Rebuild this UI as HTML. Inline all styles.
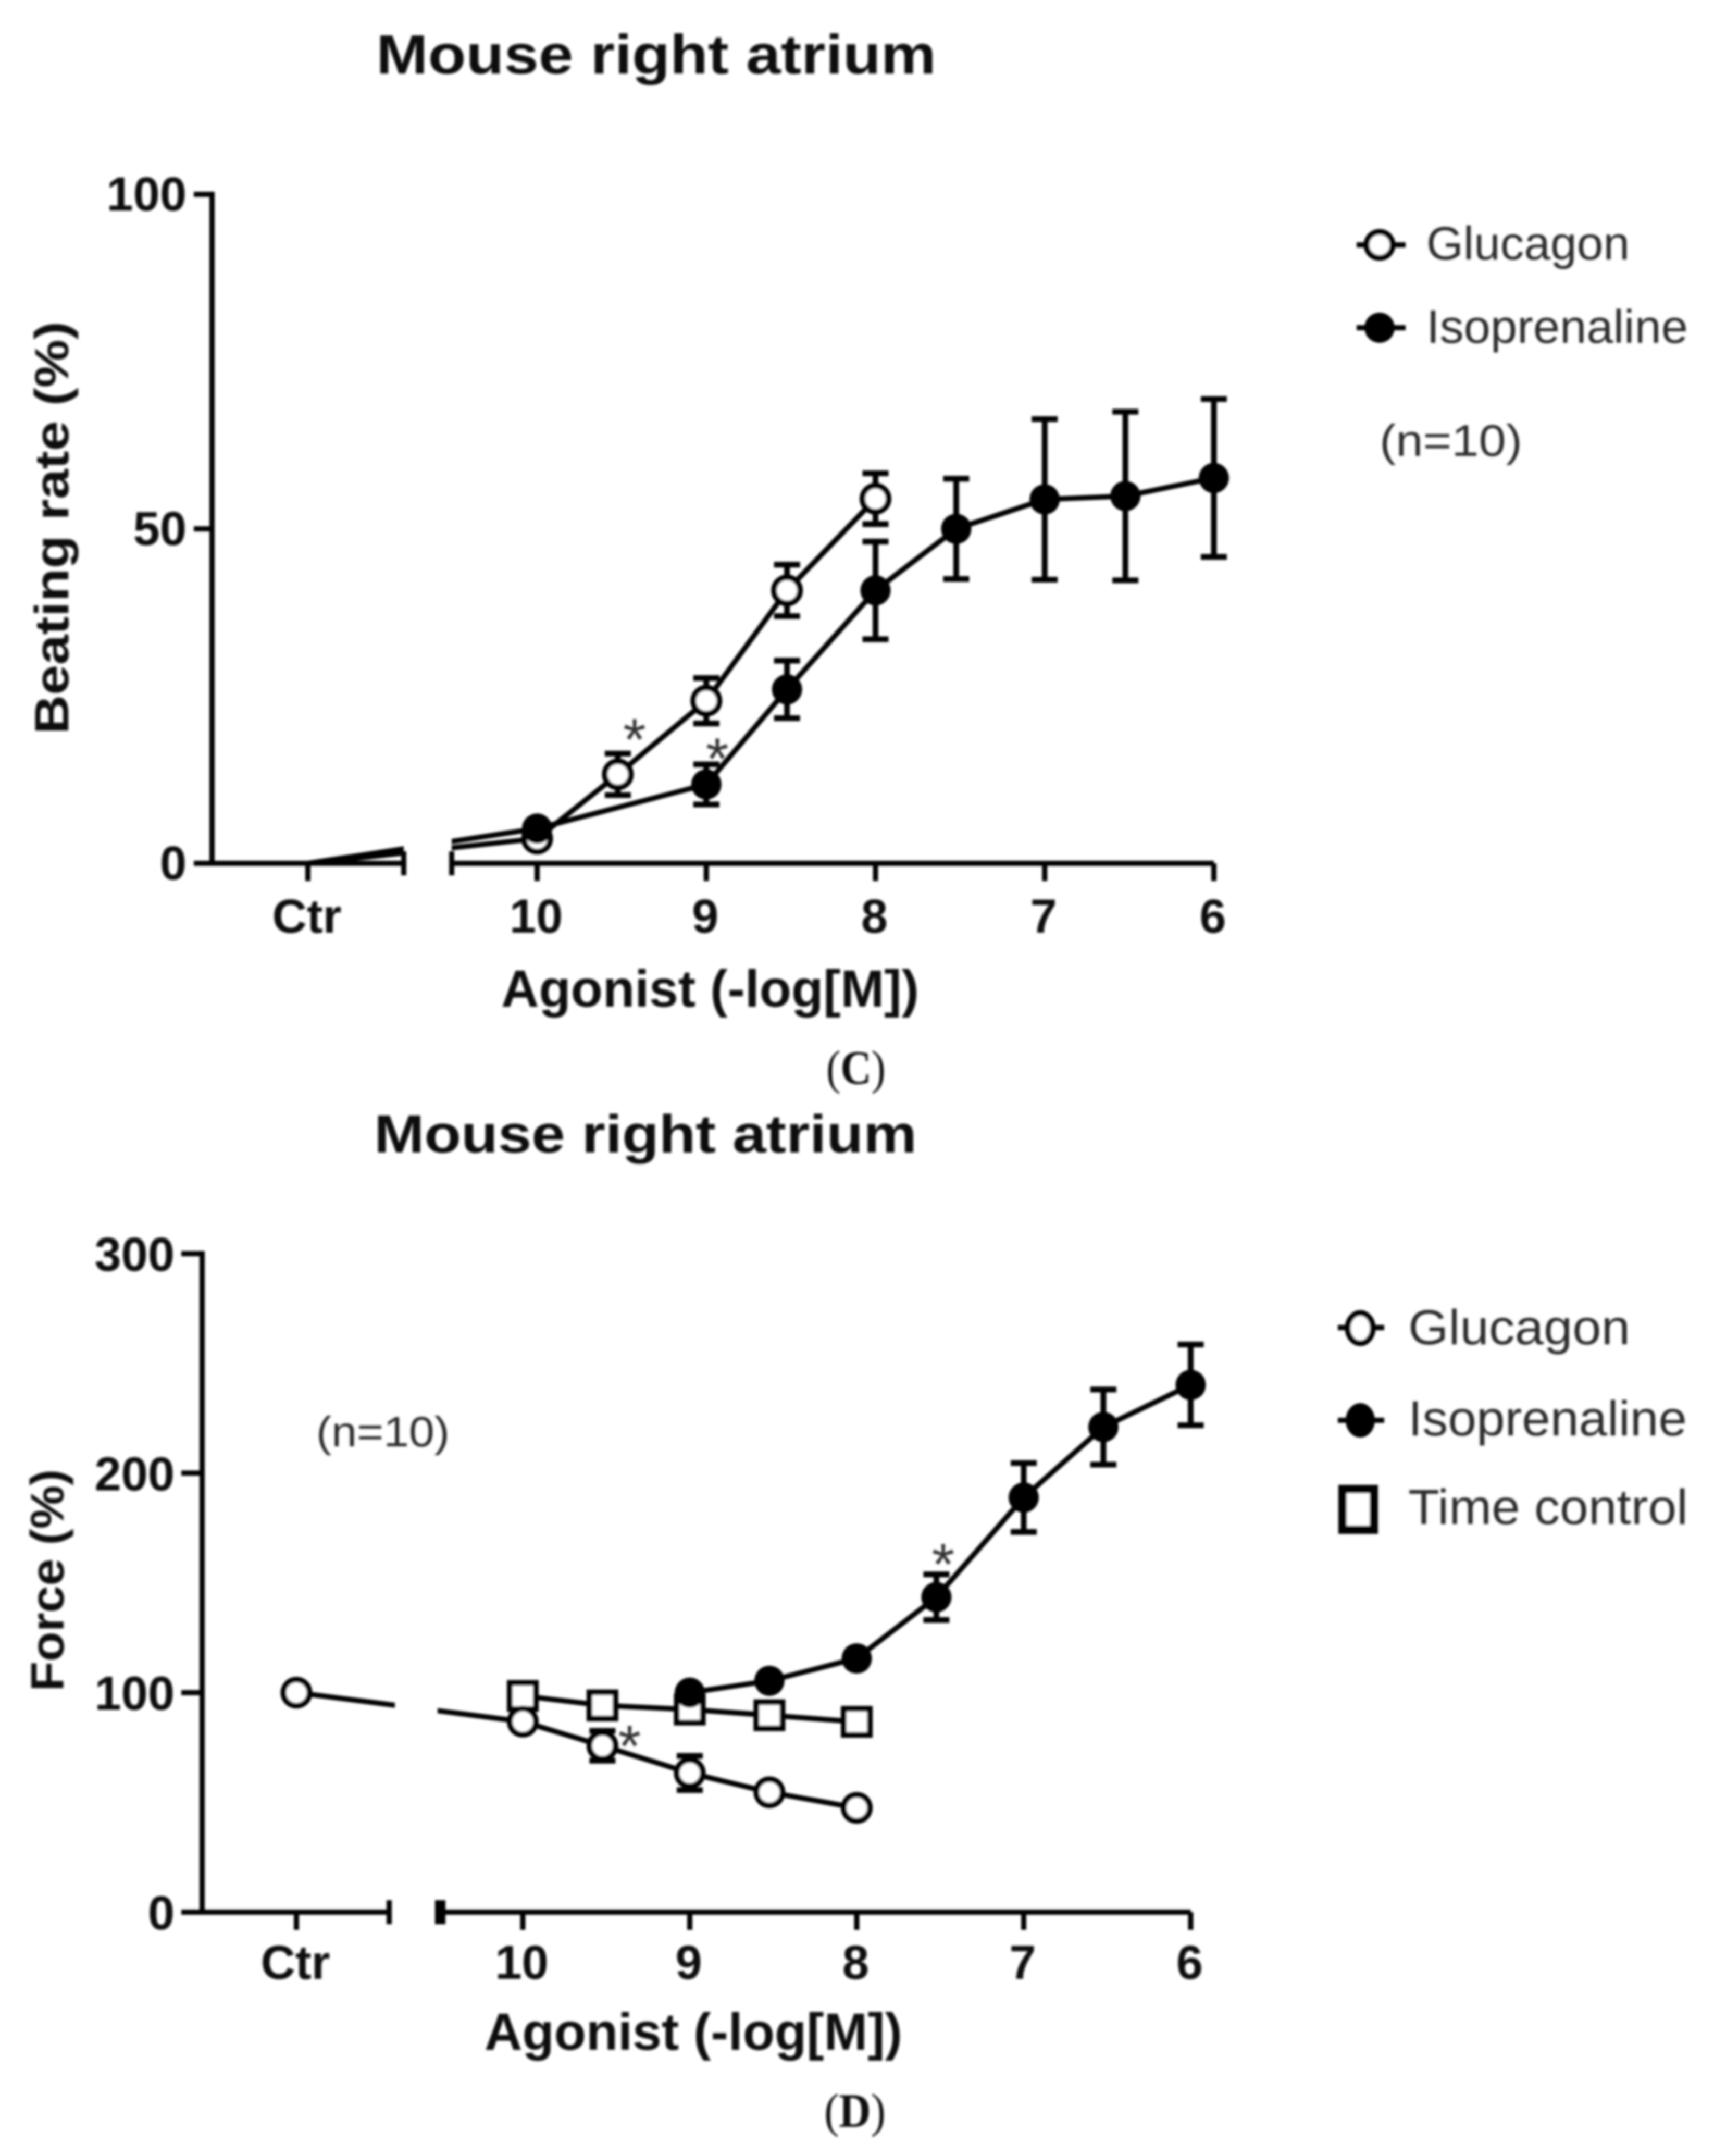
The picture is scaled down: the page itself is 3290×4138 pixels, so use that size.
<!DOCTYPE html>
<html lang="en">
<head>
<meta charset="utf-8">
<title>Mouse right atrium</title>
<style>
html,body{margin:0;padding:0;background:#fff;}
svg{display:block;}
text{font-family:"Liberation Sans",Arial,sans-serif;}
.b{font-weight:bold;fill:#111;}
.r{fill:#2b2b2b;}
.s{font-family:"Liberation Serif",serif;fill:#111;}
.star{fill:#333;font-size:112px;text-anchor:middle;}
</style>
</head>
<body>
<svg id="figure" xmlns="http://www.w3.org/2000/svg" width="3290" height="4138" viewBox="0 0 3290 4138">
<defs>
<filter id="soft" x="0" y="0" width="100%" height="100%" filterUnits="userSpaceOnUse" primitiveUnits="userSpaceOnUse"><feGaussianBlur stdDeviation="2.4"/></filter>
<clipPath id="clip-c"><rect x="0" y="0" width="775" height="2100"/><rect x="867" y="0" width="2423" height="2100"/></clipPath>
<clipPath id="clip-d"><rect x="0" y="2100" width="758" height="2038"/><rect x="840" y="2100" width="2450" height="2038"/></clipPath>
</defs>
<rect x="0" y="0" width="3290" height="4138" fill="#fff"/>
<g filter="url(#soft)">

<g id="panel-c">
<text class="b" x="722" y="141" font-size="106" textLength="1075" lengthAdjust="spacingAndGlyphs">Mouse right atrium</text>
<text class="b" transform="translate(131,1013) rotate(-90)" x="-396" y="0" font-size="92" textLength="792" lengthAdjust="spacingAndGlyphs">Beating rate (%)</text>
<text class="b" x="962" y="1932" font-size="100" textLength="802" lengthAdjust="spacingAndGlyphs">Agonist (-log[M])</text>
<g>
<line x1="2604" y1="470" x2="2698" y2="470" stroke="#000" stroke-width="10"/>
<circle cx="2648" cy="470" r="25" fill="#fff" stroke="#000" stroke-width="11"/>
<text class="r" x="2738" y="498" font-size="90" textLength="390" lengthAdjust="spacingAndGlyphs">Glucagon</text>
<line x1="2604" y1="629" x2="2698" y2="629" stroke="#000" stroke-width="10"/>
<circle cx="2648" cy="629" r="29" fill="#000"/>
<text class="r" x="2738" y="658" font-size="90" textLength="502" lengthAdjust="spacingAndGlyphs">Isoprenaline</text>
</g>
<text class="r" x="2648" y="875" font-size="85" textLength="274" lengthAdjust="spacingAndGlyphs">(n=10)</text>
<text class="s" x="1586" y="2080" font-size="92" textLength="114" lengthAdjust="spacingAndGlyphs">(<tspan font-weight="bold">C</tspan>)</text>
</g>

<g id="panel-d">
<text class="b" x="718" y="2212" font-size="103" textLength="1042" lengthAdjust="spacingAndGlyphs">Mouse right atrium</text>
<text class="b" transform="translate(122,3033) rotate(-90)" x="-213" y="0" font-size="90" textLength="426" lengthAdjust="spacingAndGlyphs">Force (%)</text>
<text class="b" x="930" y="3934" font-size="100" textLength="802" lengthAdjust="spacingAndGlyphs">Agonist (-log[M])</text>
<g>
<line x1="2568" y1="2548" x2="2657" y2="2548" stroke="#000" stroke-width="10"/>
<ellipse cx="2611" cy="2549" rx="24" ry="29" fill="#fff" stroke="#000" stroke-width="11"/>
<text class="r" x="2703" y="2580" font-size="95" textLength="426" lengthAdjust="spacingAndGlyphs">Glucagon</text>
<line x1="2568" y1="2726" x2="2657" y2="2726" stroke="#000" stroke-width="10"/>
<ellipse cx="2611" cy="2726" rx="28" ry="33" fill="#000"/>
<text class="r" x="2703" y="2755" font-size="95" textLength="535" lengthAdjust="spacingAndGlyphs">Isoprenaline</text>
<rect x="2577" y="2858" width="60" height="78" fill="#fff" stroke="#000" stroke-width="16"/>
<text class="r" x="2703" y="2925" font-size="95" textLength="537" lengthAdjust="spacingAndGlyphs">Time control</text>
</g>
<text class="r" x="607" y="2776" font-size="82" textLength="256" lengthAdjust="spacingAndGlyphs">(n=10)</text>
<text class="s" x="1582" y="4082" font-size="92" textLength="118" lengthAdjust="spacingAndGlyphs">(<tspan font-weight="bold">D</tspan>)</text>
</g>
</g>
</svg>
<script>
// Panel C data
const cYTickValues = [0, 50, 100];
const cYTickLabels = ['0', '50', '100'];
const cXTickDoses = [10, 9, 8, 7, 6];
const cXTickLabels = ['10', '9', '8', '7', '6'];
const cGlucagonCtr = [0];
const cGlucagonDoses = [10, 9.523, 9, 8.523, 8];
const cGlucagonValues = [3.7, 13.3, 24.3, 40.8, 54.5];
const cGlucagonErrors = [0, 3.1, 3.4, 3.85, 3.8];
const cIsoCtr = [0];
const cIsoDoses = [10, 9, 8.523, 8, 7.523, 7, 6.523, 6];
const cIsoValues = [5.2, 11.8, 26, 40.8, 50, 54.4, 54.9, 57.6];
const cIsoErrors = [0, 3, 4.3, 7.3, 7.5, 12, 12.6, 11.8];
const cStarDoses = [9.523, 9];
const cStarValues = [20.5, 17.6];

// Panel D data
const dYTickValues = [0, 100, 200, 300];
const dYTickLabels = ['0', '100', '200', '300'];
const dXTickDoses = [10, 9, 8, 7, 6];
const dXTickLabels = ['10', '9', '8', '7', '6'];
const dGlucagonCtr = [100];
const dGlucagonDoses = [10, 9.523, 9, 8.523, 8];
const dGlucagonValues = [86.8, 75.8, 63.4, 54.6, 47.5];
const dGlucagonErrors = [0, 6.8, 7.8, 0, 0];
const dIsoDoses = [9, 8.523, 8, 7.523, 7, 6.523, 6];
const dIsoValues = [100, 105.4, 115.6, 143.5, 188.9, 221, 240.2];
const dIsoErrors = [0, 0, 0, 10.4, 15.7, 17.1, 18.4];
const dTimeDoses = [10, 9.523, 9, 8.523, 8];
const dTimeValues = [98.5, 94.2, 92.3, 89.7, 86.7];
const dStarDoses = [9.523, 7.523];
const dStarValues = [81.7, 164.5];

const NS = 'http://www.w3.org/2000/svg';
function makeEl(parent, tag, attrs) {
  const el = document.createElementNS(NS, tag);
  for (const k in attrs) el.setAttribute(k, attrs[k]);
  parent.appendChild(el);
  return el;
}

function makePanel(rootId, opts) {
  const root = document.getElementById(rootId).parentNode.appendChild(document.createElementNS(NS, 'g'));
  
  
  return {
    root: root,
    opts: opts,
    xAt: function (dose) { return opts.x10 + (10 - dose) * opts.xUnit; },
    yAt: function (value) { return opts.y0 - value * opts.yUnit; }
  };
}

function drawAxes(p, yValues, yLabels, xDoses, xLabels) {
  const o = p.opts;
  const g = makeEl(p.root, 'g', { stroke: '#000', 'stroke-width': 10, fill: 'none' });
  
  

  const topY = p.yAt(yValues[yValues.length - 1]);
  const yAxis = makeEl(g, 'line', { x1: o.axisX, y1: topY - 5, x2: o.axisX, y2: o.y0 + 5 });
  
  

  yValues.forEach(function (v, i) {
    const y = p.yAt(v);
    const tick = makeEl(g, 'line', { x1: o.yTickLeft, y1: y, x2: o.axisX, y2: y });
    
    
    const label = makeEl(p.root, 'text', { x: o.yLabelRight, y: y + o.yLabelDy, 'font-size': 92, 'text-anchor': 'end', class: 'b' });
    label.textContent = yLabels[i];
    
    
  });

  const leftSeg = makeEl(g, 'line', { x1: o.yTickLeft, y1: o.y0, x2: o.breakLeft, y2: o.y0 });
  
  
  const lastX = p.xAt(xDoses[xDoses.length - 1]);
  const rightSeg = makeEl(g, 'line', { x1: o.breakRight, y1: o.y0, x2: lastX, y2: o.y0 });
  
  

  const endA = makeEl(g, 'line', { x1: o.breakLeft, y1: o.y0 - 23, x2: o.breakLeft, y2: o.y0 + 23 });
  
  
  const endB = makeEl(g, 'line', { x1: o.breakRight, y1: o.y0 - 23, x2: o.breakRight, y2: o.y0 + 23, 'stroke-width': o.breakTickWidth });
  
  

  const ctrTick = makeEl(g, 'line', { x1: o.ctrX, y1: o.y0, x2: o.ctrX, y2: o.y0 + 34 });
  
  
  const ctrLabel = makeEl(p.root, 'text', { x: o.ctrX - 2, y: o.xLabelY, 'font-size': 92, 'text-anchor': 'middle', class: 'b' });
  ctrLabel.textContent = 'Ctr';
  
  

  xDoses.forEach(function (d, i) {
    const x = p.xAt(d);
    const tick = makeEl(g, 'line', { x1: x, y1: o.y0, x2: x, y2: o.y0 + 34 });
    
    
    const label = makeEl(p.root, 'text', { x: x - 2, y: o.xLabelY, 'font-size': 92, 'text-anchor': 'middle', class: 'b' });
    label.textContent = xLabels[i];
    
    
  });
}

function drawSeries(p, name, shape, ctrValues, showCtrMarker, doses, values, errors) {
  const o = p.opts;
  const g = makeEl(p.root, 'g', {});
  
  

  const pts = [];
  if (ctrValues) pts.push(o.ctrX + ',' + p.yAt(ctrValues[0]));
  doses.forEach(function (d, i) { pts.push(p.xAt(d) + ',' + p.yAt(values[i])); });
  const line = makeEl(g, 'polyline', { points: pts.join(' '), fill: 'none', stroke: '#000', 'stroke-width': 10, 'clip-path': 'url(#' + o.clip + ')' });
  
  

  doses.forEach(function (d, i) {
    const err = errors ? errors[i] : 0;
    if (!err) return;
    const x = p.xAt(d);
    const yHi = p.yAt(values[i] + err);
    const yLo = p.yAt(values[i] - err);
    const bar = makeEl(g, 'path', {
      d: 'M' + x + ' ' + yHi + 'V' + yLo + 'M' + (x - 25) + ' ' + yHi + 'H' + (x + 25) + 'M' + (x - 25) + ' ' + yLo + 'H' + (x + 25),
      fill: 'none', stroke: '#000', 'stroke-width': 11
    });
    
    
  });

  function marker(x, y) {
    let m;
    if (shape === 'open') {
      m = makeEl(g, 'circle', { cx: x, cy: y, r: 25, fill: '#fff', stroke: '#000', 'stroke-width': 11 });
    } else if (shape === 'filled') {
      m = makeEl(g, 'circle', { cx: x, cy: y, r: 29, fill: '#000' });
    } else {
      m = makeEl(g, 'rect', { x: x - 25, y: y - 25, width: 50, height: 50, fill: '#fff', stroke: '#000', 'stroke-width': 11 });
    }
    
    
  }
  if (ctrValues && showCtrMarker) marker(o.ctrX, p.yAt(ctrValues[0]));
  doses.forEach(function (d, i) { marker(p.xAt(d), p.yAt(values[i])); });
}

function drawStars(p, doses, values, offsets) {
  doses.forEach(function (d, i) {
    const star = makeEl(p.root, 'text', { x: p.xAt(d) + offsets[i], y: p.yAt(values[i]) + 64, class: 'star' });
    star.textContent = '*';
    
    
  });
}

const softRoot = document.querySelector('#figure > g');

const panelC = makePanel('panel-c', {
  name: 'panel-c', x10: 1031, xUnit: 324.75, y0: 1657, yUnit: 12.84, axisX: 407, yTickLeft: 372,
  yLabelRight: 358, yLabelDy: 31, breakLeft: 775, breakRight: 867, breakTickWidth: 10, ctrX: 591, xLabelY: 1790, clip: 'clip-c'
});
drawAxes(panelC, cYTickValues, cYTickLabels, cXTickDoses, cXTickLabels);
drawSeries(panelC, 'c-glucagon', 'open', cGlucagonCtr, false, cGlucagonDoses, cGlucagonValues, cGlucagonErrors);
drawSeries(panelC, 'c-isoprenaline', 'filled', cIsoCtr, false, cIsoDoses, cIsoValues, cIsoErrors);
drawStars(panelC, cStarDoses, cStarValues, [32, 21]);

const panelD = makePanel('panel-d', {
  name: 'panel-d', x10: 1003.5, xUnit: 320.5, y0: 3670, yUnit: 4.213, axisX: 388, yTickLeft: 348,
  yLabelRight: 335, yLabelDy: 33, breakLeft: 747, breakRight: 845, breakTickWidth: 20, ctrX: 569, xLabelY: 3798, clip: 'clip-d'
});
drawAxes(panelD, dYTickValues, dYTickLabels, dXTickDoses, dXTickLabels);
drawSeries(panelD, 'd-time-control', 'square', null, false, dTimeDoses, dTimeValues, null);
drawSeries(panelD, 'd-glucagon', 'open', dGlucagonCtr, true, dGlucagonDoses, dGlucagonValues, dGlucagonErrors);
drawSeries(panelD, 'd-isoprenaline', 'filled', null, false, dIsoDoses, dIsoValues, dIsoErrors);
drawStars(panelD, dStarDoses, dStarValues, [52, 13]);

softRoot.appendChild(panelC.root);
softRoot.appendChild(panelD.root);
</script>
</body>
</html>
